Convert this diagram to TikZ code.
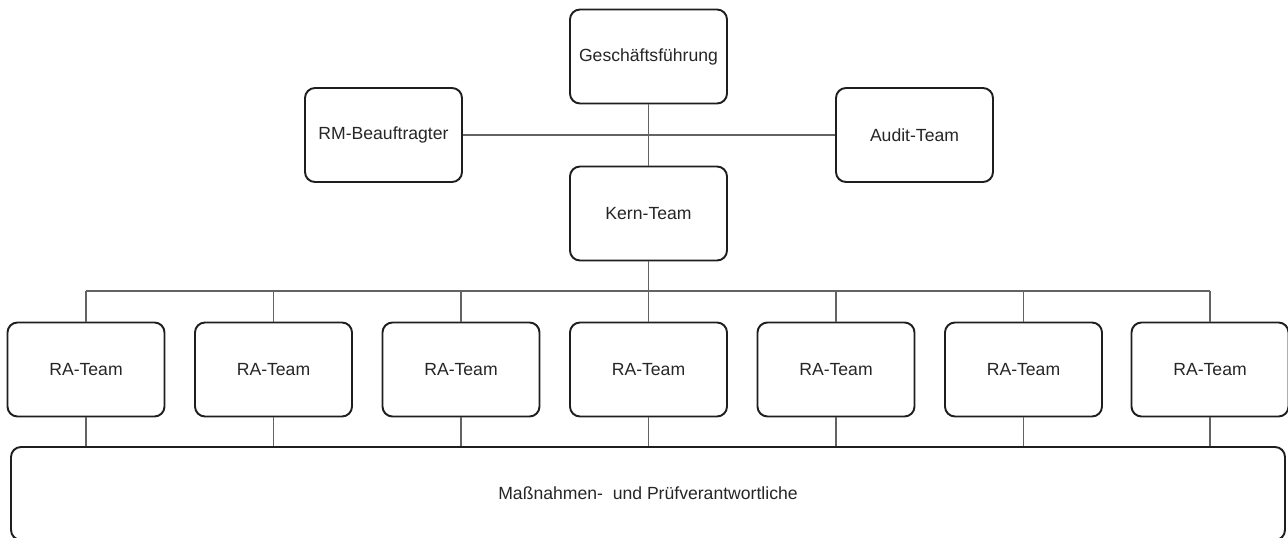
\documentclass[tikz,border=0pt]{standalone}
\usepackage{fontspec}
\setmainfont{Liberation Sans}
\definecolor{boxline}{HTML}{1E1E1E}
\definecolor{wire}{HTML}{636363}
\definecolor{txt}{HTML}{262626}
\begin{document}
\begin{tikzpicture}[x=1pt,y=-1pt,
  unit/.style={draw=boxline, line width=1.9pt, fill=white, rounded corners=10pt,
    minimum width=157pt, minimum height=94pt, inner sep=0pt, text=txt,
    font=\fontsize{17.6}{21}\selectfont},
  wireline/.style={draw=wire, line width=1.8pt}]
\useasboundingbox (0,0) rectangle (1288,538);
\clip (0,0) rectangle (1288,538);

% height of the horizontal bus feeding the RA teams
\coordinate (bus) at (0, 291);

% upper level
\node[unit] (gf)    at (648.5, 56.5) {Geschäftsführung};
\node[unit] (rm)    at (383.5, 135)  {RM-Beauftragter};
\node[unit] (audit) at (914.5, 135)  {Audit-Team};
\node[unit] (kern)  at (648.5, 213.5){Kern-Team};

% RA teams
\foreach \i/\x in {1/86,2/273.5,3/461,4/648.5,5/836,6/1023.5,7/1210}
  \node[unit] (ra\i) at (\x, 369.5) {RA-Team};

% common base
\node[unit, minimum width=1274pt, minimum height=93pt] (base) at (648, 493.5)
  {Maßnahmen-\ \ und Prüfverantwortliche};

% connectors
\draw[wireline] (gf.south) -- (kern.north);
\draw[wireline] (rm.east) -- (audit.west);
\draw[wireline] (kern.south) -- (kern.south |- bus);
\draw[wireline] (ra1.north |- bus) -- (ra7.north |- bus);
\foreach \i in {1,...,7} {
  \draw[wireline] (ra\i.north) -- (ra\i.north |- bus);
  \draw[wireline] (ra\i.south) -- (ra\i.south |- base.north);
}
\end{tikzpicture}
\end{document}
